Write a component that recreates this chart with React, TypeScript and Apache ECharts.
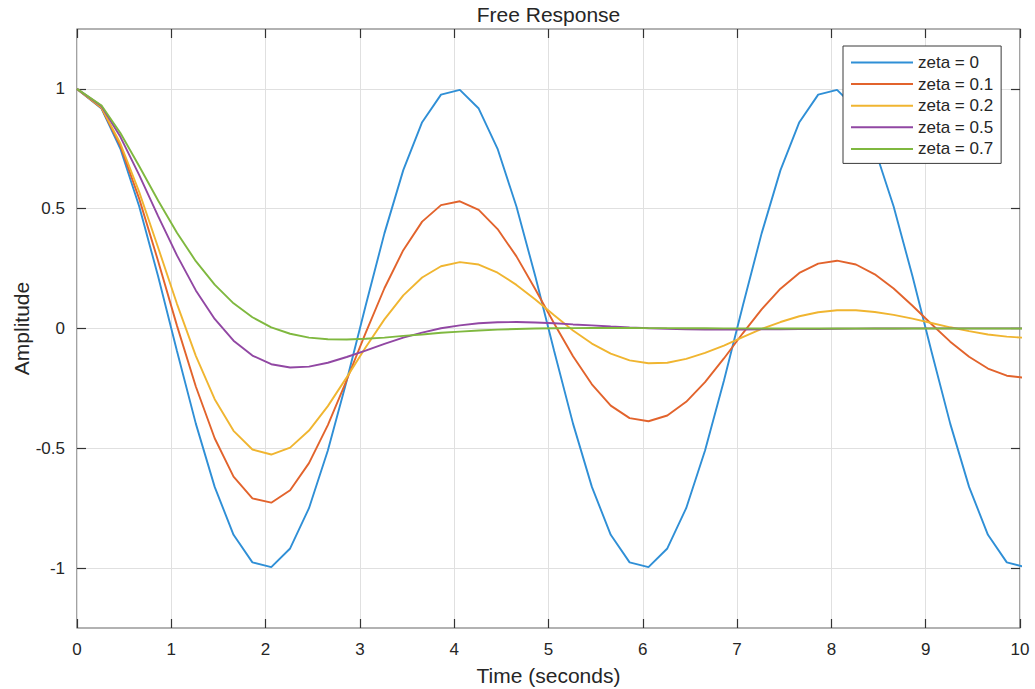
import React, { useEffect, useRef } from 'react';
import * as echarts from 'echarts';

// Time samples (seconds)
const time = [
  0, 0.26, 0.46, 0.66, 0.86, 1.06, 1.26, 1.46, 1.66, 1.86, 2.06,
  2.26, 2.46, 2.66, 2.86, 3.06, 3.26, 3.46, 3.66, 3.86, 4.06,
  4.26, 4.46, 4.66, 4.86, 5.06, 5.26, 5.46, 5.66, 5.86, 6.06,
  6.26, 6.46, 6.66, 6.86, 7.06, 7.26, 7.46, 7.66, 7.86, 8.06,
  8.26, 8.46, 8.66, 8.86, 9.06, 9.26, 9.46, 9.66, 9.86, 10.06,
];

const zeta0 = [
  1, 0.918, 0.75, 0.509, 0.218, -0.094, -0.397, -0.661, -0.861, -0.976, -0.996,
  -0.918, -0.75, -0.509, -0.218, 0.094, 0.397, 0.661, 0.861, 0.976, 0.996,
  0.918, 0.75, 0.509, 0.218, -0.094, -0.397, -0.661, -0.861, -0.976, -0.996,
  -0.918, -0.75, -0.509, -0.218, 0.094, 0.397, 0.661, 0.861, 0.976, 0.996,
  0.918, 0.75, 0.509, 0.218, -0.094, -0.397, -0.661, -0.861, -0.976, -0.996,
];

const zeta01 = [
  1, 0.92, 0.762, 0.541, 0.282, 0.012, -0.242, -0.458, -0.618, -0.709, -0.727,
  -0.675, -0.562, -0.403, -0.215, -0.019, 0.168, 0.327, 0.446, 0.515, 0.531,
  0.495, 0.415, 0.301, 0.164, 0.021, -0.116, -0.233, -0.322, -0.374, -0.387,
  -0.363, -0.306, -0.224, -0.125, -0.02, 0.08, 0.166, 0.232, 0.271, 0.283,
  0.267, 0.226, 0.167, 0.095, 0.019, -0.055, -0.118, -0.167, -0.197, -0.206,
];

const zeta02 = [
  1, 0.922, 0.772, 0.569, 0.338, 0.103, -0.114, -0.295, -0.427, -0.505, -0.526,
  -0.497, -0.426, -0.324, -0.204, -0.079, 0.038, 0.138, 0.213, 0.26, 0.277,
  0.267, 0.233, 0.182, 0.121, 0.055, -0.008, -0.063, -0.105, -0.133, -0.145,
  -0.143, -0.127, -0.102, -0.071, -0.036, -0.002, 0.027, 0.051, 0.068, 0.076,
  0.076, 0.069, 0.057, 0.041, 0.023, 0.005, -0.011, -0.025, -0.034, -0.039,
];

const zeta05 = [
  1, 0.928, 0.8, 0.64, 0.469, 0.305, 0.159, 0.04, -0.051, -0.113, -0.149,
  -0.163, -0.159, -0.143, -0.119, -0.092, -0.064, -0.038, -0.017, 0.001, 0.013,
  0.022, 0.026, 0.027, 0.025, 0.022, 0.017, 0.013, 0.0085, 0.0046, 0.0013,
  -0.0012, -0.0029, -0.0039, -0.0043, -0.0042, -0.0038, -0.0032, -0.0025, -0.0018, -0.0011,
  -0.0005, 0.0, 0.0003, 0.0006, 0.0007, 0.0007, 0.0007, 0.0006, 0.0005, 0.0004,
];

const zeta07 = [
  1, 0.931, 0.816, 0.677, 0.534, 0.4, 0.281, 0.183, 0.105, 0.047, 0.005,
  -0.022, -0.038, -0.045, -0.046, -0.043, -0.038, -0.031, -0.025, -0.018, -0.013,
  -0.0084, -0.0048, -0.0021, -0.0002, 0.001, 0.0017, 0.0021, 0.0021, 0.002, 0.0017,
  0.0014, 0.0011, 0.0008, 0.0006, 0.0004, 0.0002, 0.0001, 0, 0, 0,
  0, 0, 0, 0, 0, 0, 0, 0, 0, 0,
];

const seriesNames = ['zeta = 0', 'zeta = 0.1', 'zeta = 0.2', 'zeta = 0.5', 'zeta = 0.7'];
const seriesValues = [zeta0, zeta01, zeta02, zeta05, zeta07];
const seriesColors = ['#2f8fd6', '#e2632c', '#f0b530', '#9147a3', '#7fb83f'];

const yTickValues = [-1, -0.5, 0, 0.5, 1];

const FONT = "'Liberation Sans', Arial, Helvetica, sans-serif";
const TEXT = '#262626';

export default function App() {
  const ref = useRef<HTMLDivElement>(null);

  useEffect(() => {
    if (!ref.current) return;
    const chart = echarts.init(ref.current, null, { renderer: 'svg' });

    const tickStyle = { color: '#333333', width: 1.2 };

    const option: any = {
      animation: false,
      backgroundColor: '#ffffff',
      textStyle: { fontFamily: FONT },
      title: {
        text: 'Free Response',
        left: 548.5,
        textAlign: 'center',
        top: 4,
        padding: 0,
        textStyle: { fontFamily: FONT, fontSize: 21, fontWeight: 'normal', color: TEXT },
      },
      grid: {
        left: 77,
        right: 15,
        top: 29,
        bottom: 61,
        containLabel: false,
        outerBoundsMode: 'none',
        show: true,
        borderColor: '#666666',
        borderWidth: 1.2,
        backgroundColor: '#ffffff',
      },
      legend: {
        orient: 'vertical',
        left: 843,
        top: 46,
        padding: [8, 8, 6, 8],
        itemWidth: 62,
        itemHeight: 2,
        itemGap: 4.6,
        itemTextGap: 5,
        icon: 'rect',
        backgroundColor: '#ffffff',
        borderColor: '#3a3a3a',
        borderWidth: 1,
        textStyle: { fontFamily: FONT, fontSize: 17, color: TEXT, lineHeight: 17 },
        data: seriesNames,
      },
      xAxis: [
        {
          type: 'value',
          min: 0,
          max: 10,
          interval: 1,
          position: 'bottom',
          name: 'Time (seconds)',
          nameLocation: 'middle',
          nameGap: 37,
          nameMoveOverlap: false,
          nameTextStyle: { fontFamily: FONT, fontSize: 21, color: TEXT },
          axisLine: { show: false, onZero: false },
          axisTick: { show: true, inside: true, length: 9, lineStyle: tickStyle },
          axisLabel: { fontFamily: FONT, fontSize: 17, color: TEXT, margin: 13, showMinLabel: true, showMaxLabel: true },
          splitLine: { show: true, lineStyle: { color: '#e0e0e0', width: 1 } },
        },
        {
          type: 'value',
          min: 0,
          max: 10,
          interval: 1,
          position: 'top',
          axisLine: { show: false, onZero: false },
          axisTick: { show: true, inside: true, length: 9, lineStyle: tickStyle },
          axisLabel: { show: false },
          splitLine: { show: false },
        },
      ],
      yAxis: [
        {
          type: 'value',
          min: -1.25,
          max: 1.25,
          position: 'left',
          name: 'Amplitude',
          nameLocation: 'middle',
          nameRotate: 90,
          nameGap: 45,
          nameMoveOverlap: false,
          nameTextStyle: { fontFamily: FONT, fontSize: 21, color: TEXT },
          axisLine: { show: false, onZero: false },
          axisTick: { show: true, inside: true, length: 9, lineStyle: tickStyle, customValues: yTickValues },
          axisLabel: { fontFamily: FONT, fontSize: 17, color: TEXT, margin: 12, customValues: yTickValues },
          splitLine: { show: true, lineStyle: { color: '#e0e0e0', width: 1 } },
        },
        {
          type: 'value',
          min: -1.25,
          max: 1.25,
          position: 'right',
          axisLine: { show: false, onZero: false },
          axisTick: { show: true, inside: true, length: 9, lineStyle: tickStyle, customValues: yTickValues },
          axisLabel: { show: false, customValues: yTickValues },
          splitLine: { show: false },
        },
      ],
      series: seriesNames.map((name, si) => ({
        name,
        type: 'line',
        xAxisIndex: 0,
        yAxisIndex: 0,
        showSymbol: false,
        symbol: 'none',
        clip: true,
        color: seriesColors[si],
        lineStyle: { color: seriesColors[si], width: 1.9 },
        data: time.map((t, i) => [t, seriesValues[si][i]]),
      })),
    };

    chart.setOption(option);
    return () => chart.dispose();
  }, []);

  return (
    <div
      ref={ref}
      style={{ position: 'absolute', left: 0, top: 0, width: 1035, height: 689 }}
    />
  );
}
